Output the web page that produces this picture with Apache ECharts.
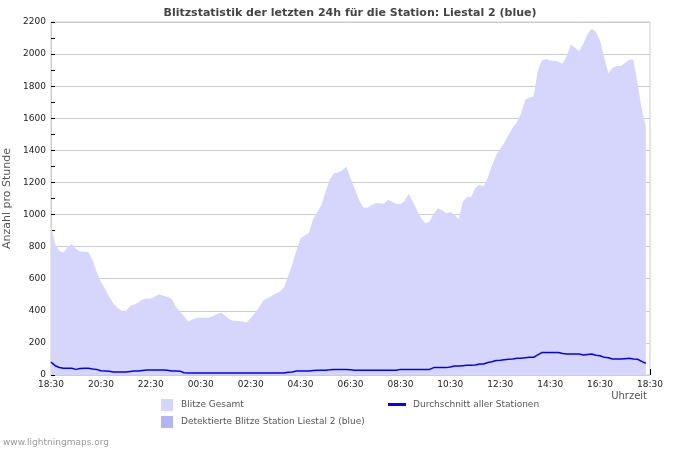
<!DOCTYPE html>
<html>
<head>
<meta charset="utf-8">
<script src="https://cdn.jsdelivr.net/npm/echarts@6/dist/echarts.min.js"></script>
<style>
  html, body { margin: 0; padding: 0; background: #fff; }
  #chart { width: 700px; height: 450px; }
</style>
</head>
<body>
<div id="chart"></div>
<script>
// Uhrzeit-Beschriftung (alle 2 Stunden)
const xLabels = ['18:30', '20:30', '22:30', '00:30', '02:30', '04:30', '06:30',
  '08:30', '10:30', '12:30', '14:30', '16:30', '18:30'];
const yTicks = [0, 200, 400, 600, 800, 1000, 1200, 1400, 1600, 1800, 2000, 2200];

// Werte alle 10 Minuten ab 18:30
const blitzeGesamt = [
  930, 815, 775, 762, 800, 815, 785, 770, 768, 767,
  715, 640, 578, 538, 488, 445, 418, 401, 399, 430,
  440, 452, 470, 476, 475, 490, 503, 494, 486, 475,
  425, 396, 366, 333, 346, 357, 357, 357, 357, 367,
  381, 388, 366, 346, 338, 336, 333, 326, 355, 385,
  420, 462, 478, 492, 508, 520, 545, 615, 690, 777,
  850, 870, 885, 970, 1015, 1060, 1140, 1218, 1258, 1262,
  1275, 1298, 1226, 1160, 1093, 1045, 1043, 1056, 1070, 1070,
  1068, 1090, 1082, 1066, 1064, 1085, 1130, 1080, 1025, 975,
  945, 955, 1005, 1040, 1028, 1008, 1016, 1000, 970, 1080,
  1109, 1111, 1165, 1185, 1175, 1230, 1305, 1368, 1410, 1447,
  1497, 1542, 1575, 1630, 1715, 1729, 1735, 1895, 1960, 1969,
  1960, 1958, 1952, 1940, 1990, 2060, 2040, 2018, 2068, 2125,
  2158, 2138, 2085, 1975, 1880, 1915, 1926, 1926, 1945, 1965,
  1965, 1820, 1660, 1545
];
const detektiert = [];
const durchschnitt = [
  80, 58, 47, 42, 42, 42, 35, 40, 42, 42,
  38, 35, 27, 25, 23, 19, 19, 19, 19, 22,
  25, 25, 28, 31, 31, 31, 31, 31, 29, 25,
  25, 24, 14, 12, 12, 12, 12, 12, 12, 12,
  12, 12, 12, 12, 12, 12, 12, 12, 12, 12,
  12, 12, 12, 12, 12, 12, 12, 17, 19, 25,
  25, 25, 25, 28, 29, 29, 30, 32, 35, 35,
  35, 35, 32, 29, 29, 29, 29, 29, 29, 29,
  29, 29, 29, 29, 35, 35, 35, 35, 35, 35,
  35, 35, 46, 46, 46, 46, 50, 56, 56, 58,
  60, 60, 62, 69, 69, 78, 83, 90, 92, 95,
  98, 100, 104, 104, 108, 110, 110, 125, 140, 140,
  140, 140, 140, 134, 131, 131, 131, 131, 125, 128,
  131, 123, 120, 110, 108, 100, 100, 100, 102, 104,
  100, 98, 85, 72
];

const step = 10; // Minuten zwischen zwei Werten
const toPairs = arr => arr.map((v, i) => [i * step, v]);

const font = 'DejaVu Sans, Verdana, sans-serif';
const chart = echarts.init(document.getElementById('chart'));

chart.setOption({
  animation: false,
  title: {
    text: 'Blitzstatistik der letzten 24h für die Station: Liestal 2 (blue)',
    left: 'center',
    top: 3,
    textStyle: { fontFamily: font, fontSize: 11, fontWeight: 'bold', color: '#444' }
  },
  grid: {
    left: 51, right: 50, top: 22, bottom: 75,
    outerBoundsMode: 'none',
    containLabel: false,
    show: true, borderColor: '#cccccc', borderWidth: 1, backgroundColor: 'transparent'
  },
  legend: [
    {
      left: 156, top: 394, orient: 'vertical', itemGap: 5,
      itemWidth: 12, itemHeight: 12, icon: 'rect',
      textStyle: { fontFamily: font, fontSize: 9, color: '#555', padding: [0, 0, 0, 3] },
      data: ['Blitze Gesamt', 'Detektierte Blitze Station Liestal 2 (blue)']
    },
    {
      left: 383, top: 395, orient: 'vertical',
      itemWidth: 18, itemHeight: 3, icon: 'rect',
      textStyle: { fontFamily: font, fontSize: 9, color: '#555', padding: [0, 0, 0, 2] },
      data: ['Durchschnitt aller Stationen']
    }
  ],
  xAxis: {
    type: 'value',
    min: 0, max: 1440, interval: 120,
    axisLine: { show: true, lineStyle: { color: '#cccccc' } },
    axisTick: { show: true, inside: true, length: 6, lineStyle: { color: '#000' } },
    minorTick: { show: true, splitNumber: 4, length: 4, lineStyle: { color: '#000' } },
    splitLine: { show: false },
    axisLabel: {
      fontFamily: font, fontSize: 9, color: '#222', margin: 5,
      formatter: v => xLabels[Math.round(v / 120)]
    }
  },
  yAxis: {
    type: 'value',
    min: 0, max: 2200, interval: 200,
    name: 'Anzahl pro Stunde',
    nameLocation: 'middle',
    nameGap: 37,
    nameTextStyle: { fontFamily: font, fontSize: 11, color: '#555' },
    axisLine: { show: true, lineStyle: { color: '#cccccc' } },
    axisTick: { show: true, inside: true, length: 4, lineStyle: { color: '#000' } },
    minorTick: { show: true, splitNumber: 2, length: 4, lineStyle: { color: '#000' } },
    splitLine: { show: true, lineStyle: { color: '#cccccc' } },
    axisLabel: {
      fontFamily: font, fontSize: 9, color: '#222', margin: 5,
      formatter: v => (yTicks.indexOf(v) >= 0 ? String(v) : '')
    }
  },
  series: [
    {
      name: 'Blitze Gesamt',
      type: 'line',
      data: toPairs(blitzeGesamt),
      showSymbol: false,
      itemStyle: { color: '#d6d6fc' },
      lineStyle: { width: 0 },
      areaStyle: { color: '#d6d6fc', opacity: 1 },
      z: 1
    },
    {
      name: 'Detektierte Blitze Station Liestal 2 (blue)',
      type: 'line',
      data: toPairs(detektiert),
      showSymbol: false,
      itemStyle: { color: '#b4b4f7' },
      lineStyle: { width: 0 },
      areaStyle: { color: '#b4b4f7', opacity: 1 },
      z: 2
    },
    {
      name: 'Durchschnitt aller Stationen',
      type: 'line',
      data: toPairs(durchschnitt),
      showSymbol: false,
      itemStyle: { color: '#0000ff' },
      lineStyle: { width: 1.5, color: '#0000ff' },
      z: 3
    }
  ],
  graphic: [
    {
      type: 'text', right: 53, top: 391,
      style: { text: 'Uhrzeit', fontFamily: font, fontSize: 10, fill: '#555' }
    },
    {
      type: 'text', left: 3, top: 438,
      style: { text: 'www.lightningmaps.org', fontFamily: font, fontSize: 9, fill: '#999' }
    }
  ]
});
</script>
</body>
</html>
